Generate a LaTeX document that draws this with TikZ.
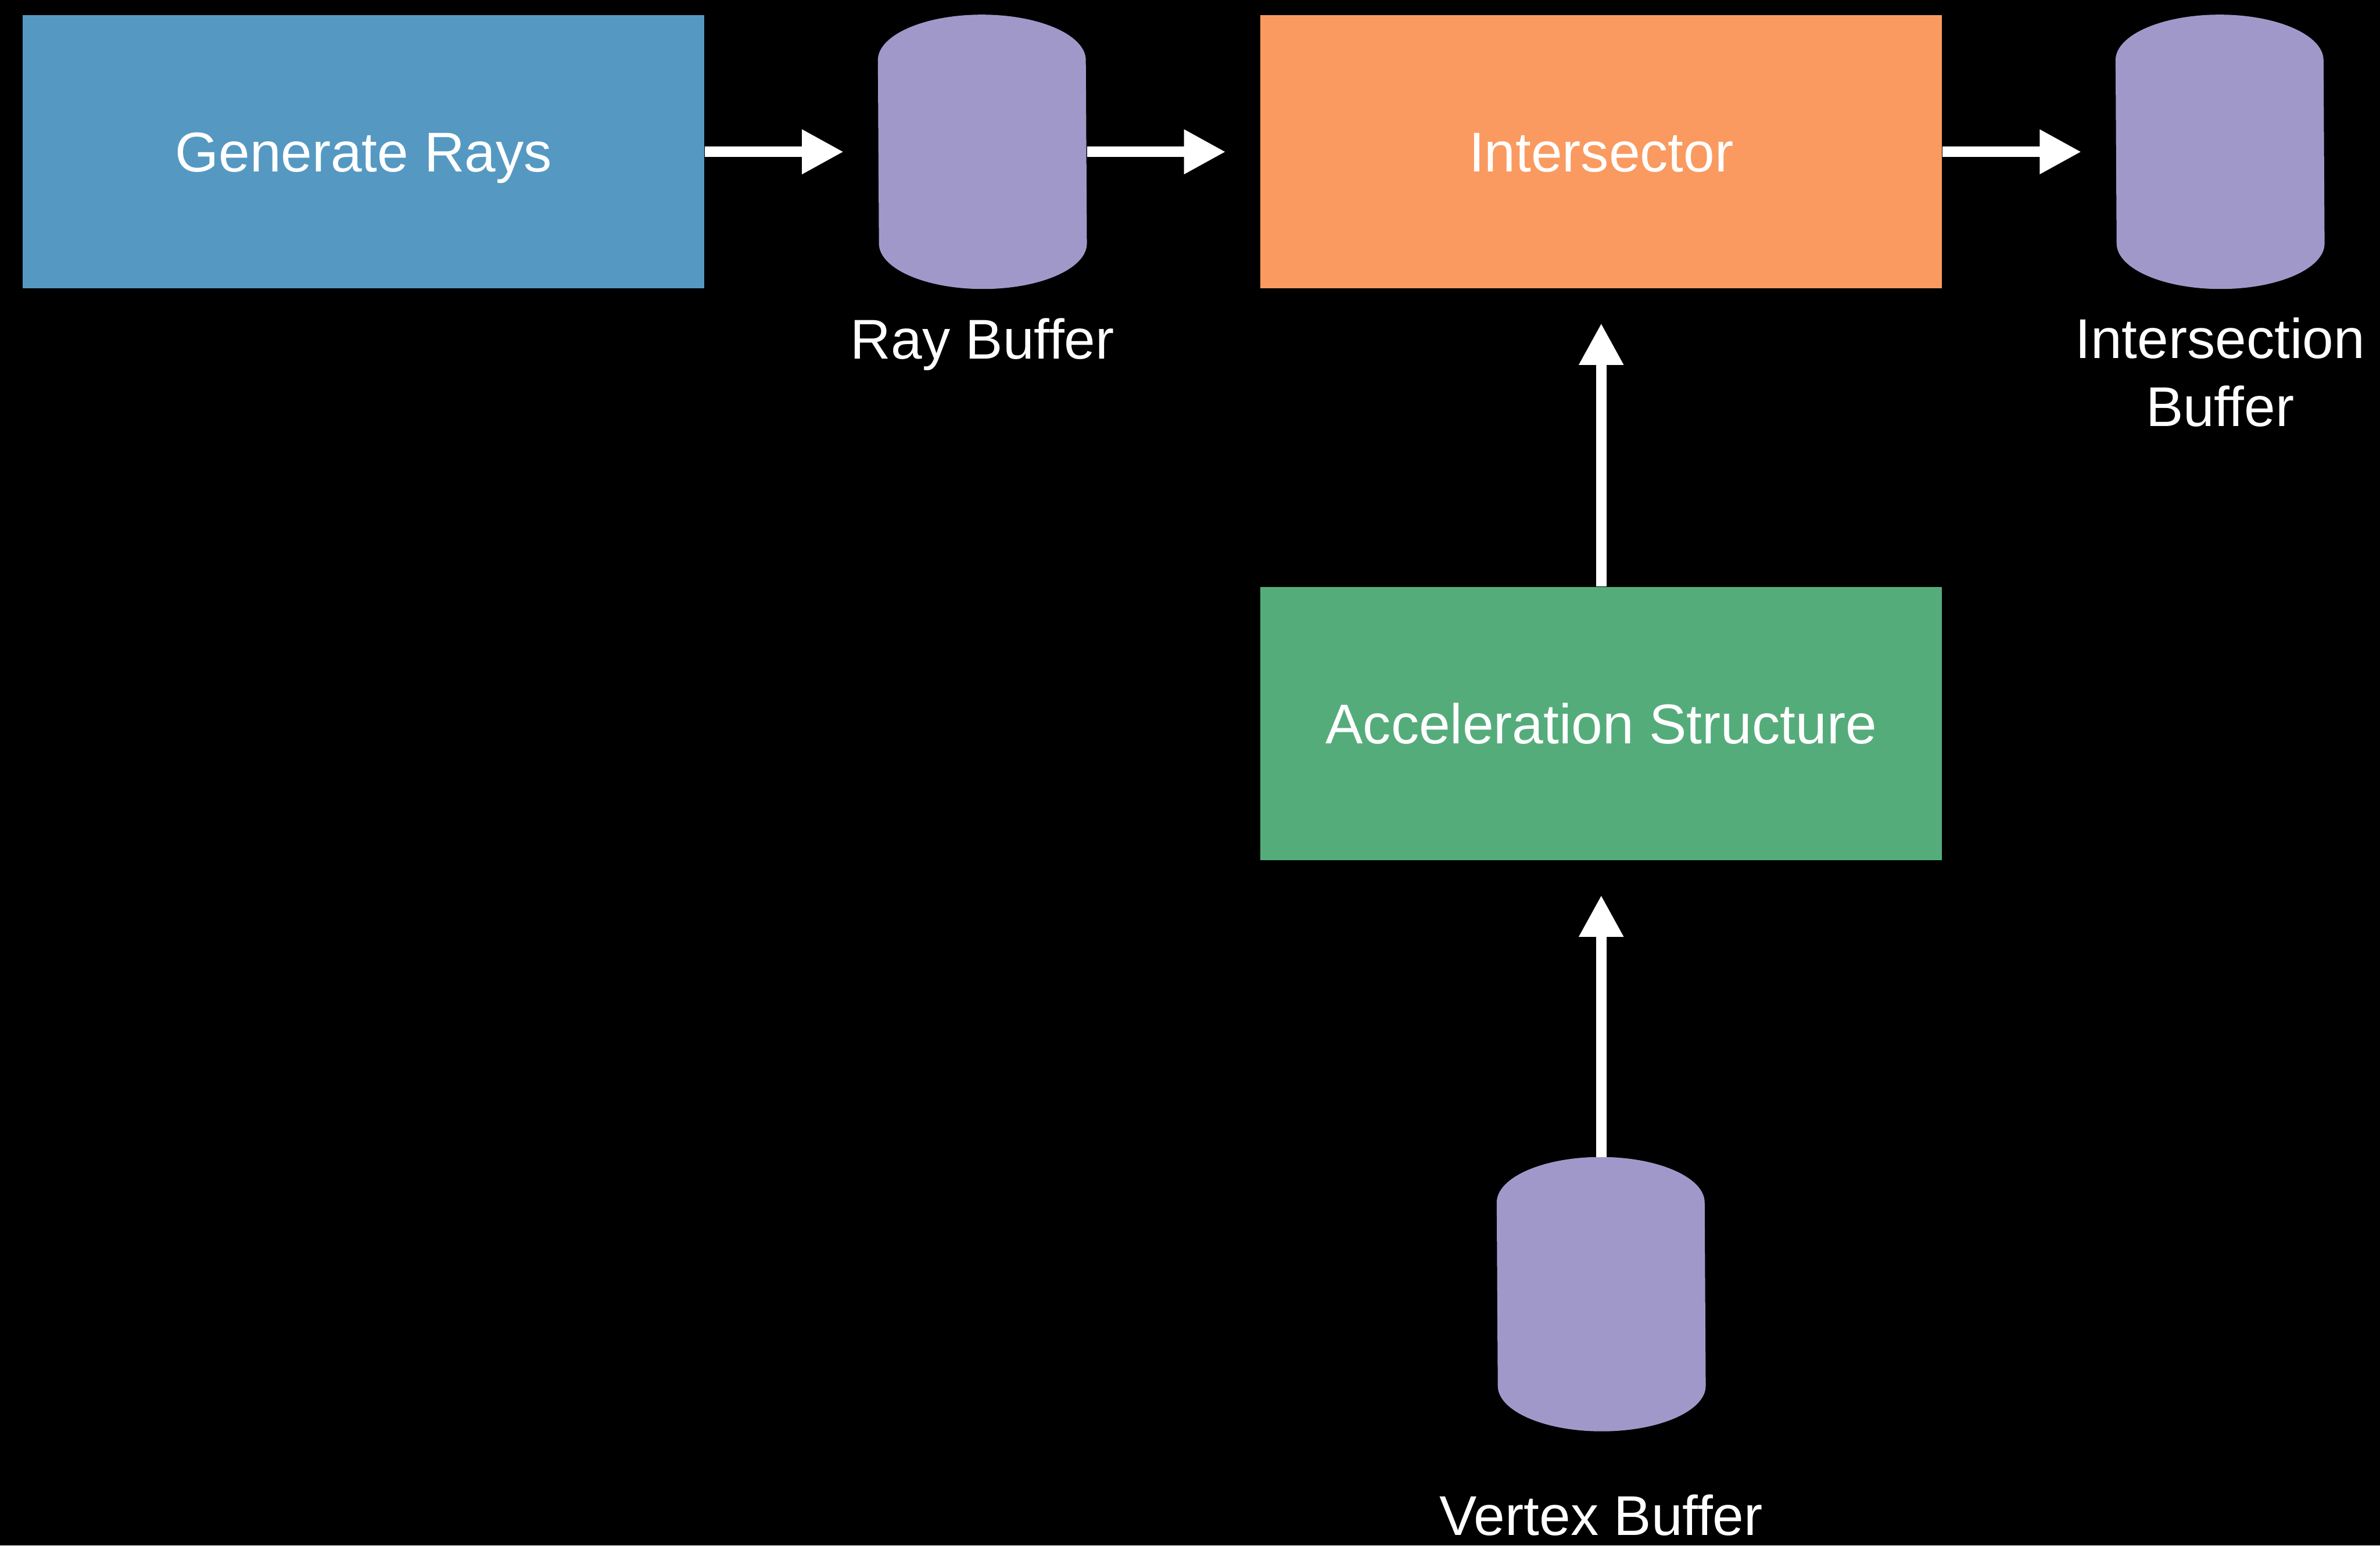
\documentclass[tikz,border=0pt]{standalone}
\usepackage{fontspec}
\setmainfont{Liberation Sans}
\usepackage{tikz}
\usetikzlibrary{arrows.meta,positioning}

\definecolor{genblue}{RGB}{85,153,194}
\definecolor{isectorange}{RGB}{250,154,96}
\definecolor{accelgreen}{RGB}{85,172,123}
\definecolor{bufpurple}{RGB}{161,152,202}

\begin{document}
\begin{tikzpicture}[
    node distance=2.28cm and 2.28cm,
    stage/.style={rectangle, inner sep=0pt, minimum width=8.98cm, minimum height=3.6cm, text=white, text height=0.63cm, text depth=0.1cm, font=\fontsize{21}{26}\selectfont},
    buffer/.style={rectangle, inner sep=0pt, minimum width=2.74cm, minimum height=3.6cm},
    caption/.style={text=white, align=center, inner sep=0pt, font=\fontsize{21}{25.6}\selectfont},
    arrow/.style={-{Triangle[length=0.55cm, width=0.55cm]}, line width=0.14cm, white, shorten >=0.45cm}
]
\fill[black] (0,0) rectangle (31.36,-20.36);

\node[stage, fill=genblue] (gen) at (4.79,-2.0) {Generate Rays};
\node[buffer, right=of gen] (raybuf) {};
\node[stage, fill=isectorange, right=of raybuf] (isect) {Intersector};
\node[buffer, right=of isect] (isectbuf) {};
\node[stage, fill=accelgreen, below=3.92cm of isect] (accel) {Acceleration Structure};
\node[buffer, below=3.9cm of accel] (vertbuf) {};

\foreach \b in {raybuf,isectbuf,vertbuf}
    \fill[bufpurple] ([yshift=-0.6cm]\b.north west) arc[start angle=180, end angle=0, x radius=1.37cm, y radius=0.6cm]
        -- ([yshift=0.6cm]\b.south east) arc[start angle=0, end angle=-180, x radius=1.37cm, y radius=0.6cm] -- cycle;

\node[caption, below=0.92cm of raybuf, anchor=base] (raylabel) {Ray Buffer};
\node[caption, below=1.81cm of isectbuf, anchor=base] (isectlabel) {Intersection\\Buffer};
\node[caption, below=1.37cm of vertbuf, anchor=base] (vertlabel) {Vertex Buffer};

\draw[arrow] (gen) -- (raybuf);
\draw[arrow] (raybuf) -- (isect);
\draw[arrow] (isect) -- (isectbuf);
\draw[arrow] (accel) -- (isect);
\draw[arrow] (vertbuf) -- (accel);
\end{tikzpicture}
\end{document}
